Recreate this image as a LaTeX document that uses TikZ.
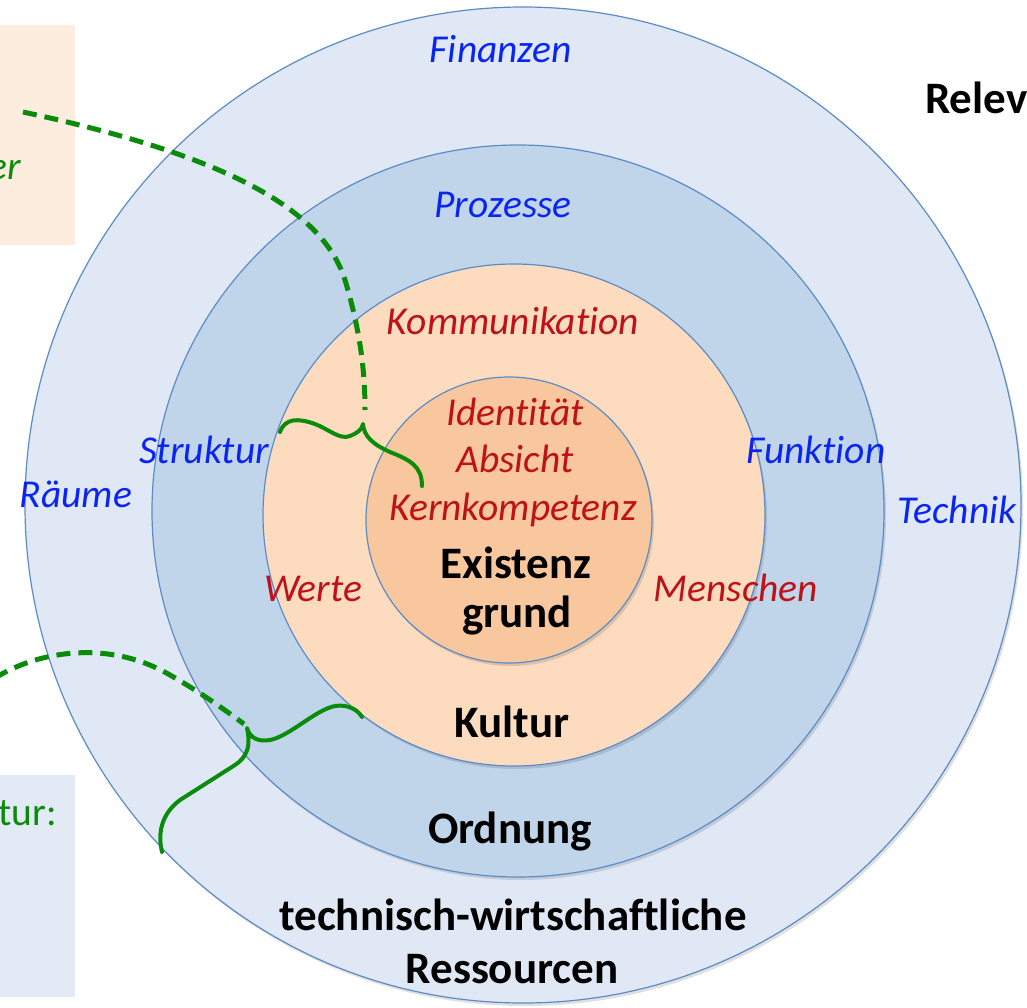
\documentclass[tikz,border=0pt]{standalone}
\usepackage{fontspec}
\setmainfont{Carlito}[Ligatures=NoCommon]
\usetikzlibrary{shadows}
\definecolor{ring1}{HTML}{DFE8F4}
\definecolor{ring2}{HTML}{C1D5EA}
\definecolor{ring3}{HTML}{FDDBBF}
\definecolor{ring4}{HTML}{F8C79D}
\definecolor{ringline}{HTML}{5B8CC8}
\definecolor{lblblue}{HTML}{0A24F2}
\definecolor{lblred}{HTML}{BC1218}
\definecolor{brgreen}{HTML}{0A8C0A}
\definecolor{boxpeach}{HTML}{FDEDDE}
\definecolor{boxblue}{HTML}{E2EAF5}
\begin{document}
\begin{tikzpicture}[x=1pt,y=-1pt,
  ring/.style={circle, draw=ringline, line width=1.2pt, inner sep=0pt,
    drop shadow={shadow xshift=2pt, shadow yshift=-3pt, opacity=0.12, fill=black}},
  bl/.style={text=lblblue, font=\fontsize{39.5}{47}\selectfont\itshape, anchor=base, inner sep=0pt},
  rd/.style={text=lblred, font=\fontsize{39.5}{47}\selectfont\itshape, anchor=base, inner sep=0pt},
  bd/.style={text=black, font=\fontsize{45}{54}\selectfont\bfseries, anchor=base, inner sep=0pt},
  gr/.style={text=brgreen, font=\fontsize{39.5}{47}\selectfont, anchor=base east, inner sep=0pt},
  dashline/.style={draw=brgreen, line width=5pt, dash pattern=on 14pt off 8pt},
  bracepath/.style={draw=brgreen, line width=4pt, line cap=round, line join=round}]
\clip (0,0) rectangle (1027,1008);
\fill[white] (0,0) rectangle (1027,1008);

% side boxes
\node[fill=boxpeach, minimum width=75pt, minimum height=220pt, inner sep=0pt, anchor=north west] (boxtop) at (0,25) {};
\node[fill=boxblue, minimum width=75pt, minimum height=222pt, inner sep=0pt, anchor=north west] (boxbot) at (0,775) {};

% rings
\node[ring, fill=ring1, minimum size=996pt] (outer) at (523,505) {};
\node[ring, fill=ring2, minimum size=732pt] (ordn) at (518,511) {};
\node[ring, fill=ring3, minimum size=502pt] (kult) at (514,515) {};
\node[ring, fill=ring4, minimum size=286pt] (core) at (509,520) {};

% dashed connectors
\coordinate (d1s) at (23,112);
\coordinate (d1e) at (365,410);
\draw[dashline] (d1s) .. controls (200,150) and (320,200) .. (345,280)
                      .. controls (360,330) and (365,370) .. (d1e);
\coordinate (d2s) at (-5,678);
\coordinate (d2e) at (244,724);
\draw[dashline] (d2s) .. controls (40,650) and (110,640) .. (170,675)
                      .. controls (200,692) and (225,710) .. (d2e);

% brace 1
\coordinate (b1l) at (280,432);
\coordinate (b1t) at (363,424);
\coordinate (b1r) at (422,486);
\draw[bracepath] (b1l) .. controls (285,418) and (298,418) .. (315,424)
   .. controls (330,430) and (340,440) .. (350,436)
   .. controls (357,433) and (362,430) .. (b1t)
   .. controls (364,436) and (372,444) .. (390,452)
   .. controls (410,460) and (422,466) .. (b1r);

% brace 2
\coordinate (b2r) at (362,717);
\coordinate (b2t) at (247,728);
\coordinate (b2l) at (162,852);
\draw[bracepath] (b2r) .. controls (358,710) and (348,704) .. (335,706)
   .. controls (315,710) and (290,736) .. (270,740)
   .. controls (258,742) and (250,738) .. (b2t)
   .. controls (250,742) and (250,755) .. (235,765)
   -- (180,800)
   .. controls (160,815) and (158,835) .. (b2l);

% labels
\node[bl] (finanzen) at (501,63) {Finanzen};
\node[bl] (prozesse) at (503,218) {Prozesse};
\node[rd] (komm) at (513,334) {Kommunikation};
\node[rd] (ident) at (515,425) {Identität};
\node[rd] (absicht) at (515,472) {Absicht};
\node[rd] (kern) at (513,520) {Kernkompetenz};
\node[bd] (exist) at (516,578) {Existenz};
\node[bd] (grund) at (517,627) {grund};
\node[bl] (struktur) at (204,463) {Struktur};
\node[bl] (funktion) at (816,463) {Funktion};
\node[bl] (raeume) at (76,507) {Räume};
\node[bl] (technik) at (957,523) {Technik};
\node[rd] (werte) at (313,601) {Werte};
\node[rd] (menschen) at (736,601) {Menschen};
\node[bd] (kultur) at (512,737) {Kultur};
\node[bd] (ordnung) at (510,843) {Ordnung};
\node[bd] (tw) at (513,930) {technisch-wirtschaftliche};
\node[bd] (ress) at (512,983) {Ressourcen};
\node[bd, anchor=base west] (relev) at (925,114) {Relev};
\node[gr, font=\fontsize{39.5}{47}\selectfont\itshape] (er) at (21,180) {er};
\node[gr] (tur) at (57,825) {tur:};
\end{tikzpicture}
\end{document}
